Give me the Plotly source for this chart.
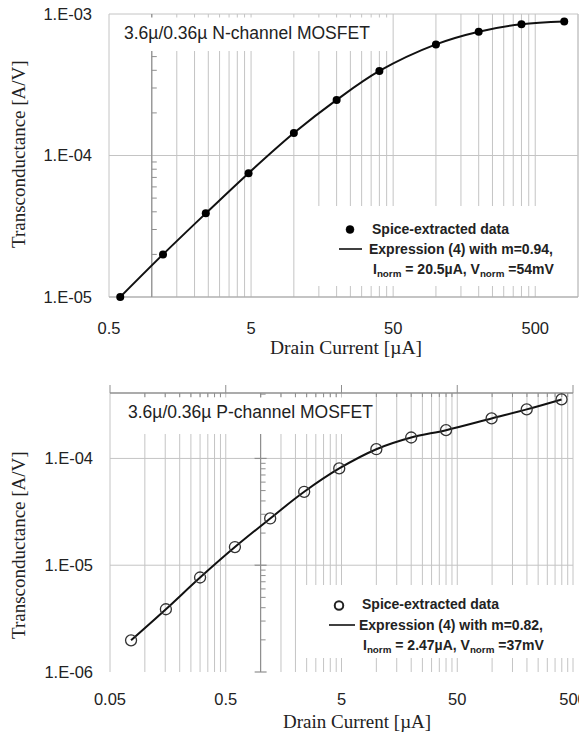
import math
import plotly.graph_objects as go

WIN_W, WIN_H = 587, 741
OFF = 8  # page body margin: the figure starts 8px right/down of the window corner
W, H = WIN_W - OFF, WIN_H - 2 * OFF

# ---------------- data ----------------
n_id = [0.6, 1.2, 2.4, 4.8, 10, 20, 40, 100, 200, 400, 800]          # µA
n_gm = [1.0e-5, 2.0e-5, 3.9e-5, 7.5e-5, 1.44e-4, 2.47e-4, 3.96e-4,
        6.1e-4, 7.5e-4, 8.46e-4, 8.85e-4]                             # A/V
p_id = [0.076, 0.152, 0.30, 0.60, 1.21, 2.38, 4.78, 10, 20, 40, 99, 199, 398]
p_gm = [1.98e-6, 3.87e-6, 7.67e-6, 1.48e-5, 2.74e-5, 4.87e-5, 8.06e-5,
        1.22e-4, 1.57e-4, 1.84e-4, 2.37e-4, 2.88e-4, 3.57e-4]

top_x_ticks = [0.5, 5, 50, 500]
top_x_labels = ["0.5", "5", "50", "500"]
top_y_ticks = [1e-5, 1e-4, 1e-3]
top_y_labels = ["1.E-05", "1.E-04", "1.E-03"]
bot_x_ticks = [0.05, 0.5, 5, 50, 500]
bot_x_labels = ["0.05", "0.5", "5", "50", "500"]
bot_y_ticks = [1e-6, 1e-5, 1e-4]
bot_y_labels = ["1.E-06", "1.E-05", "1.E-04"]

top_title = "3.6µ/0.36µ N-channel MOSFET"
bot_title = "3.6µ/0.36µ P-channel MOSFET"
top_leg = ["Spice-extracted data", "Expression (4) with m=0.94,",
           "I<sub>norm</sub> = 20.5µA, V<sub>norm</sub> =54mV"]
bot_leg = ["Spice-extracted data", "Expression (4) with m=0.82,",
           "I<sub>norm</sub> = 2.47µA, V<sub>norm</sub> =37mV"]
y_title = "Transconductance [A/V]"
x_title = "Drain Current [µA]"

# ---------------- geometry (window pixels) ----------------
TOP = dict(l=109, r=578, t=14, b=297, xr=(0.5, 1000), yr=(1e-5, 1e-3))
BOT = dict(l=110, r=573, t=393, b=672, xr=(0.05, 500), yr=(1e-6, 4.1e-4))

GRID = "#c4c4c4"
AXC = "#8f8f8f"
TXT = "#222222"
SANS = "Liberation Sans, Arial, sans-serif"
SERIF = "Liberation Serif, Times New Roman, serif"


def fx(p):
    return (p - OFF) / W


def fy(p):
    return 1 - (p - OFF) / H


def frac(v, lo, hi):
    return (math.log10(v) - math.log10(lo)) / (math.log10(hi) - math.log10(lo))


def PX(P, v):
    return P["l"] + frac(v, *P["xr"]) * (P["r"] - P["l"])


def PY(P, v):
    return P["b"] - frac(v, *P["yr"]) * (P["b"] - P["t"])


shapes = []


def seg(x0, y0, x1, y1, color, width, layer="below"):
    shapes.append(dict(type="line", xref="paper", yref="paper",
                       x0=fx(x0), y0=fy(y0), x1=fx(x1), y1=fy(y1),
                       line=dict(color=color, width=width), layer=layer))


def box(x0, y0, x1, y1):
    shapes.append(dict(type="rect", xref="paper", yref="paper",
                       x0=fx(x0), y0=fy(y0), x1=fx(x1), y1=fy(y1),
                       fillcolor="white", line=dict(width=0), layer="above"))


def grid_values(lo, hi, bases):
    vals = []
    for b in bases:
        for m in range(1, 10):
            v = b * m
            if lo * 0.999 <= v <= hi * 1.001:
                vals.append(v)
    return vals


# ---------- top panel grid ----------
P = TOP
for v in grid_values(*P["xr"], [0.5, 5, 50, 500]):
    x = PX(P, v)
    seg(x, P["t"], x, P["b"], GRID, 1)
seg(P["r"], P["t"], P["r"], P["b"], GRID, 1)
for v in [1e-4, 1e-3]:
    y = PY(P, v)
    seg(P["l"], y, P["r"], y, GRID, 1)
seg(P["l"], P["b"], P["r"], P["b"], "#b0b0b0", 1.3)
xa = PX(P, 1)
seg(xa, P["t"], xa, P["b"], AXC, 1.2)
for k in [1e-5, 1e-4]:
    for m in range(2, 10):
        y = PY(P, k * m)
        seg(xa, y, xa + 5, y, AXC, 1)

# ---------- bottom panel grid ----------
P = BOT
for v in grid_values(*P["xr"], [0.05, 0.5, 5, 50, 500]):
    x = PX(P, v)
    seg(x, P["t"], x, P["b"], GRID, 1)
for v in [1e-5, 1e-4]:
    y = PY(P, v)
    seg(P["l"], y, P["r"], y, GRID, 1)
seg(P["l"], P["t"], P["r"], P["t"], AXC, 1.3)
for v in grid_values(*P["xr"], [0.05, 0.5, 5, 50, 500]):
    x = PX(P, v)
    if any(abs(v - b) / b < 1e-6 for b in bot_x_ticks):
        seg(x, P["t"] - 8, x, P["t"], AXC, 1)
    else:
        seg(x, P["t"], x, P["t"] + 4, AXC, 1)
xa = PX(P, 1)
seg(xa, P["t"], xa, P["b"], AXC, 1.2)
for k in [1e-6, 1e-5, 1e-4]:
    for m in range(1, 10):
        v = k * m
        if v > P["yr"][1]:
            continue
        y = PY(P, v)
        if m == 1:
            seg(xa - 6, y, xa + 6, y, AXC, 1.2)
        else:
            seg(xa, y, xa + 5, y, AXC, 1)

# ---------- white text boxes (hide grid behind) ----------
box(110, 17.5, 390, 51)
box(305, 206, 576, 286)
box(111, 397.5, 374, 434)
box(300, 585, 576, 658)


def circ(cx, cy, d, fill, lc, lw):
    shapes.append(dict(type="circle", xref="paper", yref="paper",
                       x0=fx(cx - d / 2), x1=fx(cx + d / 2),
                       y0=fy(cy + d / 2), y1=fy(cy - d / 2),
                       fillcolor=fill, line=dict(color=lc, width=lw), layer="above"))


circ(350, 229.5, 8, "black", "black", 0.5)
seg(339, 249, 362, 249, "black", 1.5, layer="above")
circ(339, 605.5, 8.5, "rgba(0,0,0,0)", "#222", 2)
seg(329, 625, 355, 625, "black", 1.5, layer="above")

# ---------- traces ----------
fig = go.Figure()
fig.add_trace(go.Scatter(x=n_id, y=n_gm, mode="lines", line_shape="spline",
                         line=dict(color="#111", width=2), xaxis="x", yaxis="y",
                         hoverinfo="skip"))
fig.add_trace(go.Scatter(x=n_id, y=n_gm, mode="markers", cliponaxis=False,
                         marker=dict(size=8, color="black"), xaxis="x", yaxis="y"))
fig.add_trace(go.Scatter(x=p_id, y=p_gm, mode="lines", line_shape="spline",
                         line=dict(color="#111", width=2), xaxis="x2", yaxis="y2",
                         hoverinfo="skip"))
fig.add_trace(go.Scatter(x=p_id, y=p_gm, mode="markers", cliponaxis=False,
                         marker=dict(size=11, color="rgba(255,255,255,0)", symbol="circle",
                                     line=dict(color="#333", width=1.3)),
                         xaxis="x2", yaxis="y2"))

tickfont = dict(family=SANS, size=16.5, color=TXT)


def xaxis(P, tv, tt, standoff):
    return dict(domain=[fx(P["l"]), fx(P["r"])], type="log",
                range=[math.log10(P["xr"][0]), math.log10(P["xr"][1])],
                tickvals=tv, ticktext=tt, showgrid=False, zeroline=False,
                showline=False, ticks="", tickfont=tickfont, automargin=False,
                ticklabelstandoff=standoff, ticklabeloverflow="allow",
                fixedrange=True)


def yaxis(P, tv, tt):
    return dict(domain=[fy(P["b"]), fy(P["t"])], type="log",
                range=[math.log10(P["yr"][0]), math.log10(P["yr"][1])],
                tickvals=tv, ticktext=tt, showgrid=False, zeroline=False,
                showline=False, ticks="", tickfont=tickfont, automargin=False,
                ticklabelstandoff=16, ticklabeloverflow="allow", fixedrange=True)


xa1 = xaxis(TOP, top_x_ticks, top_x_labels, 19)
xa1["anchor"] = "y"
ya1 = yaxis(TOP, top_y_ticks, top_y_labels)
ya1["anchor"] = "x"
xa2 = xaxis(BOT, bot_x_ticks, bot_x_labels, 15)
xa2["anchor"] = "y2"
ya2 = yaxis(BOT, bot_y_ticks, bot_y_labels)
ya2["anchor"] = "x2"

annotations = []


def txt(text, x, y, size, family=SANS, xanchor="left", angle=0, bold=False):
    annotations.append(dict(text=("<b>%s</b>" % text) if bold else text,
                            x=fx(x), y=fy(y), xref="paper", yref="paper",
                            xanchor=xanchor, yanchor="middle", showarrow=False,
                            textangle=angle,
                            font=dict(family=family, size=size, color=TXT)))


txt(top_title, 122, 33, 17.5)
txt(bot_title, 126, 412, 17.5)
for s, (x, y) in zip(top_leg, [(370, 229), (367, 249), (371, 270)]):
    txt(s, x, y, 14, bold=True)
for s, (x, y) in zip(bot_leg, [(360, 604), (357, 625), (361, 646)]):
    txt(s, x, y, 14, bold=True)
txt(y_title, 18, 154, 19, family=SERIF, xanchor="center", angle=-90)
txt(y_title, 18, 545, 19, family=SERIF, xanchor="center", angle=-90)
txt(x_title, 346, 347, 19.5, family=SERIF, xanchor="center")
txt(x_title, 357, 721, 19, family=SERIF, xanchor="center")

fig.update_layout(width=W, height=H,
                  margin=dict(l=0, r=0, t=0, b=0, pad=0, autoexpand=False),
                  paper_bgcolor="white", plot_bgcolor="white", showlegend=False,
                  xaxis=xa1, yaxis=ya1, xaxis2=xa2, yaxis2=ya2,
                  shapes=shapes, annotations=annotations)

fig.write_html("out.html")
